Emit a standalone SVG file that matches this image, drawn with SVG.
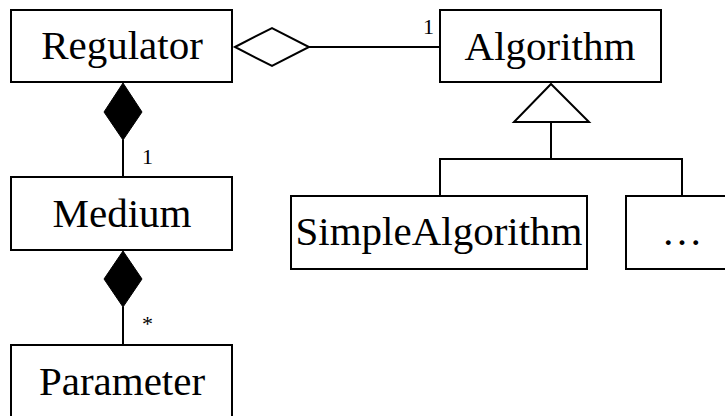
<svg xmlns="http://www.w3.org/2000/svg" width="725" height="416" viewBox="0 0 725 416">
  <style>
    .box { fill: #ffffff; stroke: #000000; stroke-width: 2; }
    .lbl { font-family: "Liberation Serif", "Times New Roman", serif; font-size: 41px; fill: #000000; text-anchor: middle; }
    .mult { font-family: "Liberation Serif", "Times New Roman", serif; font-size: 22px; fill: #000000; }
    .line { fill: none; stroke: #000000; stroke-width: 2; }
    .open { fill: #ffffff; stroke: #000000; stroke-width: 2; }
    .solid { fill: #000000; stroke: #000000; stroke-width: 1; }
  </style>
  <rect width="725" height="416" fill="#ffffff"/>

  <!-- associations -->
  <g id="connectors">
    <!-- Regulator <>— Algorithm (aggregation) -->
    <line class="line" x1="309" y1="47" x2="440" y2="47"/>
    <polygon class="open" points="235,47 272,28 309,47 272,66"/>
    <text class="mult" x="423" y="34">1</text>

    <!-- Regulator <#>— Medium (composition) -->
    <line class="line" x1="123" y1="140" x2="123" y2="177"/>
    <polygon class="solid" points="123,83 142,112 123,140 104,112"/>
    <text class="mult" x="142" y="164">1</text>

    <!-- Medium <#>— Parameter (composition) -->
    <line class="line" x1="123" y1="307" x2="123" y2="345"/>
    <polygon class="solid" points="123,251 142,279 123,307 104,279"/>
    <text class="mult" x="142" y="331">*</text>

    <!-- generalization to Algorithm -->
    <polygon class="open" points="551,84 589,122 514,122"/>
    <polyline class="line" points="551,122 551,159"/>
    <polyline class="line" points="440,196 440,159 682,159 682,196"/>
  </g>

  <g id="regulator">
    <rect class="box" x="11" y="10" width="221" height="72"/>
    <text class="lbl" x="122" y="59">Regulator</text>
  </g>

  <g id="algorithm">
    <rect class="box" x="440" y="10" width="221" height="72"/>
    <text class="lbl" x="550" y="60">Algorithm</text>
  </g>

  <g id="medium">
    <rect class="box" x="11" y="177" width="221" height="73"/>
    <text class="lbl" x="122" y="227">Medium</text>
  </g>

  <g id="parameter">
    <rect class="box" x="11" y="345" width="221" height="80"/>
    <text class="lbl" x="122" y="395">Parameter</text>
  </g>

  <g id="simple-algorithm">
    <rect class="box" x="291" y="196" width="296" height="73"/>
    <text class="lbl" x="439" y="245">SimpleAlgorithm</text>
  </g>

  <g id="more-algorithms">
    <rect class="box" x="626" y="196" width="112" height="73"/>
    <text class="lbl" x="682" y="245">…</text>
  </g>
</svg>
